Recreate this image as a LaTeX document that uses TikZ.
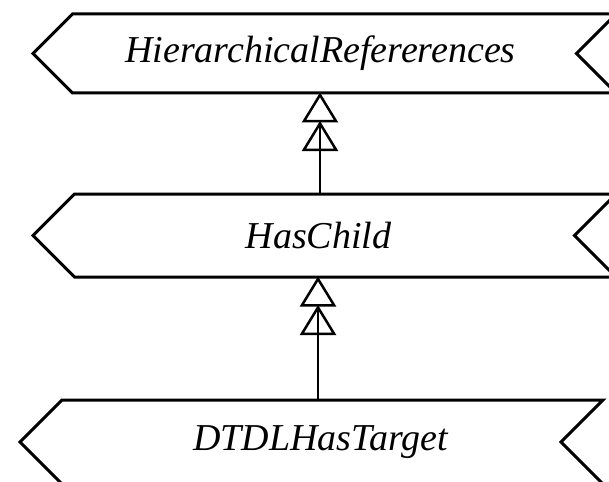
\documentclass[tikz,border=0pt]{standalone}
\usepackage{fontspec}
\setmainfont{Liberation Serif}
\usetikzlibrary{shapes.symbols, arrows.meta, positioning}
\tikzset{
reltype/.style={draw, line width=3pt, signal, signal to=west, signal from=east, signal pointer angle=90, inner sep=0pt, minimum width=583pt, font=\fontsize{38}{40}\selectfont\itshape}, % banner of a reference type
subtype/.style={line width=1.5pt, shorten >=-2pt, -{Triangle[open, length=30pt, width=36pt, line width=2.5pt, sep=-1.5pt] Triangle[open, length=30pt, width=36pt, line width=2.5pt]}}, % double hollow head for "is subtype of"
}

\begin{document}
\begin{tikzpicture}[x=1pt, y=-1pt]
            \useasboundingbox (0,0) rectangle (609,481);
            \clip (0,0) rectangle (609,481);
            \node[reltype, minimum height=79pt] (hier) at (324.5,53.5) {HierarchicalRefererences\hspace*{8pt}};
            \node[reltype, minimum height=83pt] (haschild) at (324.5,235.5) {HasChild\hspace*{12pt}};
            \node[reltype, minimum height=84pt] (target) at (311.5,442) {\hspace*{18pt}DTDLHasTarget};
            \draw[subtype] ([xshift=-4.5pt]haschild.north) -- ([xshift=-4.5pt]hier.south);
            \draw[subtype] ([xshift=6.5pt]target.north) -- ([xshift=-6.5pt]haschild.south);
\end{tikzpicture}
\end{document}
